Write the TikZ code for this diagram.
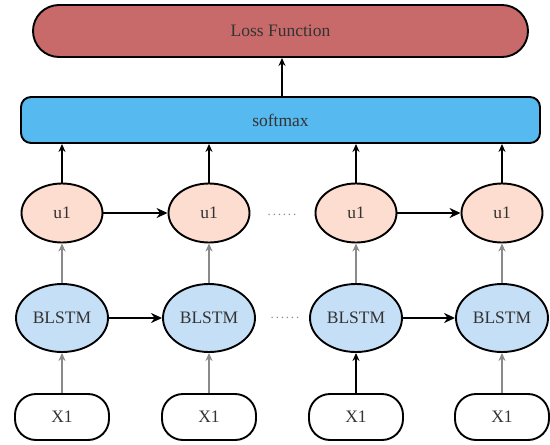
\documentclass[tikz,border=0pt]{standalone}
\usepackage{fontspec}
\setmainfont{Liberation Serif}
\usetikzlibrary{shapes.geometric,arrows.meta}
\definecolor{lossfill}{HTML}{C96A6A}
\definecolor{smfill}{HTML}{56B9EF}
\definecolor{ufill}{HTML}{FCDDD0}
\definecolor{bfill}{HTML}{C5DFF7}
\definecolor{txt}{HTML}{333333}
\definecolor{garrow}{HTML}{8A8A8A}
\begin{document}
\begin{tikzpicture}[x=1pt,y=1pt,
  every node/.style={font=\fontsize{17.5}{20}\selectfont, text=txt, line width=1.9pt, draw=black, inner sep=0pt},
  lossbox/.style={rectangle, rounded corners=26pt, fill=lossfill, minimum width=495pt, minimum height=52pt},
  smbox/.style={rectangle, rounded corners=10pt, fill=smfill, minimum width=519pt, minimum height=46pt},
  unode/.style={ellipse, fill=ufill, minimum width=81pt, minimum height=59pt},
  bnode/.style={ellipse, fill=bfill, minimum width=92pt, minimum height=68pt},
  xnode/.style={rectangle, rounded corners=21pt, fill=white, minimum width=94pt, minimum height=46pt},
  dotsnode/.style={draw=none, text=garrow, font=\fontsize{13}{15}\selectfont\addfontfeature{LetterSpace=14}},
  blk/.style={draw=black, line width=1.3pt, -{Stealth[length=8pt,width=7pt]}},
  hblk/.style={draw=black, line width=2pt, -{Stealth[length=11pt,width=10pt]}},
  gry/.style={draw=garrow, line width=1.3pt, -{Stealth[length=8pt,width=7pt]}}
]
\useasboundingbox (0,0) rectangle (550,-445);
\node[lossbox] (loss) at (280.5,-31) {Loss Function};
\node[smbox] (sm) at (280.5,-120) {softmax};
\foreach \i/\x in {1/62,2/209,3/356,4/502} {
  \node[unode] (u\i) at (\x,-213) {u1};
  \node[bnode] (b\i) at (\x,-318) {BLSTM};
  \node[xnode] (x\i) at (\x,-417) {X1};
}
\node[dotsnode] (d1) at (282,-215) {......};
\node[dotsnode] (d2) at (285,-318) {......};
\draw[blk] (282,-97.3) coordinate (smtop) -- (smtop |- loss.south);
\foreach \i in {1,2,3,4} {
  \draw[blk] (u\i.north) -- (u\i.north |- sm.south);
  \draw[gry] (b\i.north) -- (u\i.south);
}
\draw[gry] (x1.north) -- (b1.south);
\draw[gry] (x2.north) -- (b2.south);
\draw[blk] (x3.north) -- (b3.south);
\draw[gry] (x4.north) -- (b4.south);
\draw[hblk] (u1.east) -- (u2.west);
\draw[hblk] (u3.east) -- (u4.west);
\draw[hblk] (b1.east) -- (b2.west);
\draw[hblk] (b3.east) -- (b4.west);
\end{tikzpicture}
\end{document}
